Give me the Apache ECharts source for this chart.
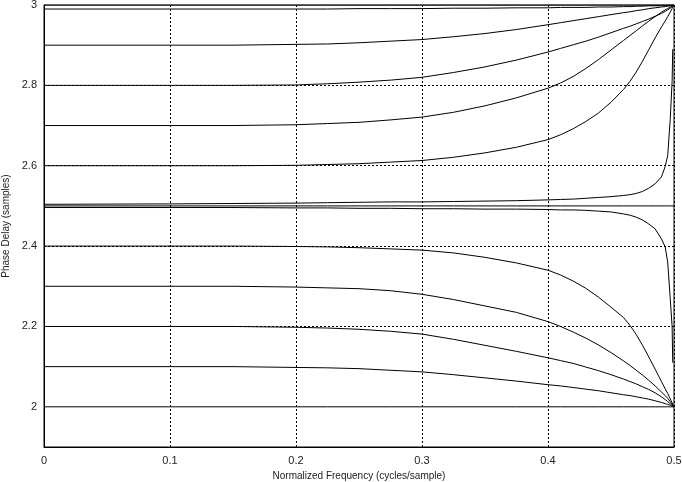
<!DOCTYPE html>
<html>
<head>
<meta charset="utf-8">
<script src="https://cdn.jsdelivr.net/npm/echarts@6/dist/echarts.min.js"></script>
<style>html,body{margin:0;padding:0;background:#fff;}#c{width:682px;height:482px;}</style>
</head>
<body>
<div id="c"></div>
<script>
// Normalized frequency samples (cycles/sample)
const freq = [0, 0.1, 0.15, 0.2, 0.225, 0.25, 0.275, 0.3, 0.325, 0.35, 0.375, 0.4, 0.41, 0.42, 0.43, 0.44, 0.45, 0.46, 0.465, 0.47, 0.475, 0.48, 0.485, 0.49, 0.493, 0.495, 0.497, 0.4985, 0.499, 0.5];

// Phase delay curves (samples)
const d300 = [3, 3, 3, 3, 3, 3, 3, 3, 3, 3, 3, 3, 3, 3, 3, 3, 3, 3, 3, 3, 3, 3, 3, 3, 3, 3, 3, 3, 3, 3];
const d299 = [2.99, 2.99, 2.99, 2.99, 2.99, 2.991, 2.991, 2.991, 2.992, 2.992, 2.993, 2.993, 2.994, 2.994, 2.994, 2.995, 2.995, 2.996, 2.996, 2.997, 2.997, 2.998, 2.998, 2.998, 2.998, 2.999, 2.999, 3, 3, 3];
const d290 = [2.9, 2.9, 2.9, 2.902, 2.903, 2.906, 2.910, 2.914, 2.921, 2.929, 2.939, 2.951, 2.956, 2.961, 2.966, 2.971, 2.976, 2.981, 2.983, 2.986, 2.988, 2.991, 2.993, 2.995, 2.996, 2.997, 2.998, 2.999, 2.9995, 3];
const d280 = [2.8, 2.8, 2.8, 2.801, 2.804, 2.808, 2.813, 2.820, 2.832, 2.846, 2.863, 2.883, 2.892, 2.901, 2.910, 2.920, 2.931, 2.942, 2.947, 2.953, 2.959, 2.965, 2.972, 2.979, 2.984, 2.988, 2.992, 2.995, 2.997, 3];
const d270 = [2.7, 2.7, 2.7, 2.702, 2.705, 2.708, 2.714, 2.721, 2.733, 2.749, 2.769, 2.793, 2.806, 2.822, 2.842, 2.864, 2.888, 2.912, 2.924, 2.936, 2.948, 2.960, 2.971, 2.982, 2.988, 2.991, 2.995, 2.997, 2.998, 3];
const d260 = [2.6, 2.6, 2.6, 2.601, 2.603, 2.605, 2.609, 2.613, 2.621, 2.632, 2.646, 2.665, 2.677, 2.692, 2.710, 2.731, 2.758, 2.790, 2.810, 2.833, 2.860, 2.889, 2.918, 2.945, 2.960, 2.971, 2.982, 2.991, 2.994, 3];
const d2505 = [2.504, 2.505, 2.506, 2.507, 2.508, 2.509, 2.510, 2.510, 2.511, 2.512, 2.513, 2.515, 2.516, 2.517, 2.519, 2.521, 2.523, 2.526, 2.528, 2.531, 2.536, 2.544, 2.555, 2.572, 2.598, 2.625, 2.715, 2.81, 2.89, null];
const d250 = [2.5, 2.5, 2.5, 2.5, 2.5, 2.5, 2.5, 2.5, 2.5, 2.5, 2.5, 2.5, 2.5, 2.5, 2.5, 2.5, 2.5, 2.5, 2.5, 2.5, 2.5, 2.5, 2.5, 2.5, 2.5, 2.5, 2.5, 2.5, 2.5, 2.5];
const d2496 = [2.496, 2.496, 2.496, 2.495, 2.495, 2.494, 2.494, 2.493, 2.493, 2.492, 2.492, 2.491, 2.490, 2.490, 2.489, 2.487, 2.485, 2.480, 2.477, 2.472, 2.465, 2.455, 2.443, 2.418, 2.398, 2.36, 2.27, 2.20, 2.11, null];
const d240 = [2.4, 2.4, 2.4, 2.399, 2.398, 2.396, 2.393, 2.390, 2.383, 2.372, 2.358, 2.340, 2.328, 2.313, 2.295, 2.273, 2.248, 2.222, 2.203, 2.180, 2.153, 2.124, 2.094, 2.063, 2.045, 2.033, 2.020, 2.010, 2.007, 2.0];
const d230 = [2.3, 2.3, 2.3, 2.298, 2.296, 2.294, 2.289, 2.280, 2.267, 2.251, 2.235, 2.212, 2.200, 2.186, 2.171, 2.154, 2.135, 2.114, 2.103, 2.091, 2.079, 2.066, 2.052, 2.037, 2.028, 2.021, 2.013, 2.007, 2.005, 2.0];
const d220 = [2.2, 2.2, 2.2, 2.198, 2.196, 2.193, 2.188, 2.181, 2.168, 2.153, 2.138, 2.122, 2.115, 2.108, 2.099, 2.090, 2.080, 2.069, 2.063, 2.057, 2.050, 2.043, 2.035, 2.025, 2.018, 2.013, 2.008, 2.004, 2.002, 2.0];
const d210 = [2.1, 2.1, 2.1, 2.098, 2.097, 2.095, 2.091, 2.087, 2.080, 2.072, 2.064, 2.055, 2.052, 2.048, 2.044, 2.040, 2.035, 2.030, 2.028, 2.025, 2.022, 2.019, 2.015, 2.011, 2.008, 2.006, 2.004, 2.002, 2.001, 2.0];
const d200 = [2, 2, 2, 2, 2, 2, 2, 2, 2, 2, 2, 2, 2, 2, 2, 2, 2, 2, 2, 2, 2, 2, 2, 2, 2, 2, 2, 2, 2, 2];

const curves = [d300, d299, d290, d280, d270, d260, d2505, d250, d2496, d240, d230, d220, d210, d200];

const yTicks = [2, 2.2, 2.4, 2.6, 2.8, 3];
const yGrid = [2.2, 2.4, 2.6, 2.8];
const xLabel = 'Normalized Frequency (cycles/sample)';
const yLabel = 'Phase Delay (samples)';

const chart = echarts.init(document.getElementById('c'), null, {renderer: 'canvas'});

const series = curves.map((arr) => ({
  type: 'line',
  data: freq.map((f, k) => [f, arr[k]]),
  showSymbol: false,
  symbol: 'none',
  connectNulls: false,
  lineStyle: {color: '#000', width: 1},
  animation: false,
  silent: true,
  z: 3
}));

series.push({
  type: 'line',
  data: [],
  silent: true,
  animation: false,
  markLine: {
    silent: true,
    symbol: 'none',
    label: {show: false},
    lineStyle: {color: '#000', type: [2, 2], width: 1},
    data: yGrid.map(v => ({yAxis: v}))
  },
  z: 1
});

chart.setOption({
  animation: false,
  backgroundColor: '#fff',
  grid: {left: 44, right: 8, top: 5, bottom: 35, show: true, borderColor: '#000', borderWidth: 1,
    containLabel: false, outerBoundsMode: 'none'},
  xAxis: {
    type: 'value', min: 0, max: 0.5, interval: 0.1,
    name: xLabel, nameLocation: 'middle', nameGap: 24,
    nameTextStyle: {fontFamily: 'Liberation Sans, Arial, sans-serif', fontSize: 10, color: '#222'},
    axisLine: {show: true, lineStyle: {color: '#000'}},
    axisTick: {show: false},
    axisLabel: {fontFamily: 'Liberation Sans, Arial, sans-serif', fontSize: 11, color: '#222', margin: 8,
      formatter: v => String(+v.toFixed(2))},
    splitLine: {show: true, lineStyle: {color: '#000', type: [2, 2], width: 1}}
  },
  yAxis: {
    type: 'value', min: 1.9, max: 3,
    name: yLabel, nameLocation: 'middle', nameGap: 33,
    nameTextStyle: {fontFamily: 'Liberation Sans, Arial, sans-serif', fontSize: 10, color: '#222'},
    axisLine: {show: true, lineStyle: {color: '#000'}},
    axisTick: {show: false},
    axisLabel: {fontFamily: 'Liberation Sans, Arial, sans-serif', fontSize: 11, color: '#222', margin: 7,
      customValues: yTicks, formatter: v => String(+v.toFixed(2))},
    splitLine: {show: false}
  },
  series: series
});
</script>
</body>
</html>
